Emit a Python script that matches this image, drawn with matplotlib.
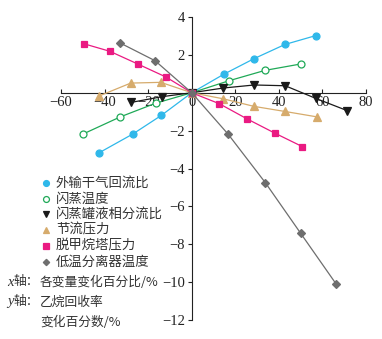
import matplotlib
matplotlib.use("Agg")
import matplotlib.pyplot as plt

# Percent change of each process variable (x) vs. change of ethane recovery (y), %
series_names = ["外输干气回流比", "闪蒸温度", "闪蒸罐液相分流比", "节流压力", "脱甲烷塔压力", "低温分离器温度"]

recycle_x = [-42.5, -26.9, -14.0, 0, 14.6, 28.6, 42.8, 57.0]
recycle_y = [-3.17, -2.17, -1.20, 0, 0.97, 1.80, 2.55, 3.02]

flash_t_x = [-49.7, -32.7, -16.5, 0, 17.0, 33.6, 50.1]
flash_t_y = [-2.17, -1.27, -0.55, 0, 0.63, 1.18, 1.52]

split_x = [-27.8, -13.8, 0, 14.5, 28.7, 42.9, 57.0, 71.5]
split_y = [-0.51, -0.21, 0, 0.25, 0.41, 0.37, -0.30, -0.95]

throttle_x = [-42.7, -28.0, -14.2, 0, 14.5, 28.6, 42.9, 57.3]
throttle_y = [-0.18, 0.51, 0.55, 0, -0.32, -0.72, -0.99, -1.27]

demeth_x = [-49.3, -37.6, -24.8, -11.8, 0, 12.7, 25.4, 38.1, 50.7]
demeth_y = [2.58, 2.19, 1.52, 0.83, 0, -0.58, -1.38, -2.13, -2.84]

lts_x = [-32.9, -16.8, 0, 16.8, 33.8, 50.0, 66.3]
lts_y = [2.63, 1.69, 0, -2.20, -4.75, -7.42, -10.10]

x_ticks = [-60, -40, -20, 0, 20, 40, 60, 80]
y_ticks = [-12, -10, -8, -6, -4, -2, 2, 4]

styles = [
    dict(color="#2fb8ea", marker="o", mfc="#2fb8ea", ms=5.0),
    dict(color="#1fa957", marker="o", mfc="white", ms=5.0),
    dict(color="#1a1a1a", marker="v", mfc="#1a1a1a", ms=5.5),
    dict(color="#d6ab6c", marker="^", mfc="#d6ab6c", ms=5.5),
    dict(color="#ea1a82", marker="s", mfc="#ea1a82", ms=4.8),
    dict(color="#6e6e6e", marker="D", mfc="#6e6e6e", ms=3.8),
]
data = [(recycle_x, recycle_y), (flash_t_x, flash_t_y), (split_x, split_y),
        (throttle_x, throttle_y), (demeth_x, demeth_y), (lts_x, lts_y)]

W, H = 382, 339
fig = plt.figure(figsize=(W / 100, H / 100), dpi=100)
ax = fig.add_axes([61 / W, 1 - 320 / H, 305 / W, 303 / H])
ax.set_xlim(-60, 80)
ax.set_ylim(-12, 4)

for (xs, ys), st in zip(data, styles):
    ax.plot(xs, ys, color=st["color"], lw=0.9, marker=st["marker"],
            ms=st["ms"], mfc=st["mfc"], mec=st["color"], mew=0.9,
            clip_on=False, zorder=3)

for side in ("top", "right"):
    ax.spines[side].set_visible(False)
ax.spines["left"].set_position(("data", 0))
ax.spines["bottom"].set_position(("data", 0))
for side in ("left", "bottom"):
    ax.spines[side].set_linewidth(0.8)
    ax.spines[side].set_color("#222222")

serif = "Liberation Serif"
ax.set_xticks(x_ticks)
ax.set_xticklabels([f"{v}".replace("-", "\u2212") for v in x_ticks],
                   family=serif, fontsize=10.5)
ax.set_yticks(y_ticks)
ax.set_yticklabels([f"{v}".replace("-", "\u2212") for v in y_ticks],
                   family=serif, fontsize=10.5)
ax.tick_params(axis="x", direction="in", length=3, width=0.8, pad=2, colors="#222222")
ax.tick_params(axis="y", direction="out", length=3, width=0.8, pad=2, colors="#222222")

# Legend keys and labels
cjk = ["Noto Sans CJK SC", "DejaVu Sans"]
fs = 9.6
row_y = [182.5, 198.5, 214.0, 229.5, 245.5, 261.5]
for name, st, yp in zip(series_names, styles, row_y):
    fy = 1 - yp / H
    fig.lines.append(plt.Line2D([46 / W], [fy], transform=fig.transFigure,
                                marker=st["marker"], ms=st["ms"] * 0.85,
                                mfc=st["mfc"], mec=st["color"], mew=0.9,
                                linestyle="none"))
    fig.text(56 / W, fy, name, family=cjk, fontsize=fs, va="center",
             ha="left", color="#333333")

# Axis notes
fs_note = 9.2
fig.text(7 / W, 1 - 282 / H, "x", family=serif, style="italic",
         fontsize=10.5, va="center", ha="left", color="#333333")
fig.text(13 / W, 1 - 282 / H, "轴：", family=cjk, fontsize=fs_note,
         va="center", ha="left", color="#333333")
fig.text(40 / W, 1 - 282 / H, "各变量变化百分比/%", family=cjk, fontsize=fs_note,
         va="center", ha="left", color="#333333")
fig.text(7 / W, 1 - 302 / H, "y", family=serif, style="italic",
         fontsize=10.5, va="center", ha="left", color="#333333")
fig.text(13 / W, 1 - 302 / H, "轴：", family=cjk, fontsize=fs_note,
         va="center", ha="left", color="#333333")
fig.text(40 / W, 1 - 302 / H, "乙烷回收率", family=cjk, fontsize=fs_note,
         va="center", ha="left", color="#333333")
fig.text(40 / W, 1 - 322 / H, "变化百分数/%", family=cjk, fontsize=fs_note,
         va="center", ha="left", color="#333333")

fig.savefig("out.png", dpi=100)
